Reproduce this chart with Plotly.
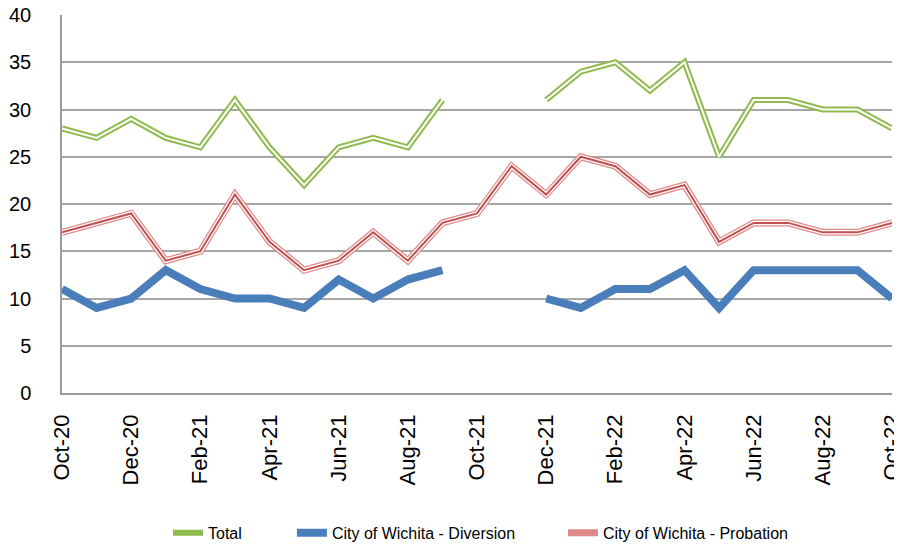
import plotly.graph_objects as go

months = [
    "Oct-20", "Nov-20", "Dec-20", "Jan-21", "Feb-21", "Mar-21", "Apr-21",
    "May-21", "Jun-21", "Jul-21", "Aug-21", "Sep-21", "Oct-21", "Nov-21",
    "Dec-21", "Jan-22", "Feb-22", "Mar-22", "Apr-22", "May-22", "Jun-22",
    "Jul-22", "Aug-22", "Sep-22", "Oct-22",
]
tick_labels = months[::2]

total = [28, 27, 29, 27, 26, 31, 26, 22, 26, 27, 26, 31, None, None,
         31, 34, 35, 32, 35, 25, 31, 31, 30, 30, 28]
diversion = [11, 9, 10, 13, 11, 10, 10, 9, 12, 10, 12, 13, None, None,
             10, 9, 11, 11, 13, 9, 13, 13, 13, 13, 10]
probation = [17, 18, 19, 14, 15, 21, 16, 13, 14, 17, 14, 18, 19, 24,
             21, 25, 24, 21, 22, 16, 18, 18, 17, 17, 18]

GREEN = "#8FBA4E"
BLUE = "#4A7EBB"
RED = "#C0504D"
RED_LIGHT = "#DE8A88"

fig = go.Figure()

# Total - double green line (green stroke with white core)
fig.add_trace(go.Scatter(
    x=months, y=total, name="Total", mode="lines", legend="legend",
    line=dict(color=GREEN, width=6), connectgaps=False,
))
fig.add_trace(go.Scatter(
    x=months, y=total, mode="lines", showlegend=False, hoverinfo="skip",
    line=dict(color="white", width=2), connectgaps=False,
))

# Diversion - thick blue line
fig.add_trace(go.Scatter(
    x=months, y=diversion, name="City of Wichita - Diversion", mode="lines",
    legend="legend2", line=dict(color=BLUE, width=8), connectgaps=False,
))

# Probation - thin-thick-thin red line
fig.add_trace(go.Scatter(
    x=months, y=probation, name="City of Wichita - Probation", mode="lines",
    legend="legend3", line=dict(color=RED_LIGHT, width=7),
))
fig.add_trace(go.Scatter(
    x=months, y=probation, mode="lines", showlegend=False, hoverinfo="skip",
    line=dict(color="white", width=4.5),
))
fig.add_trace(go.Scatter(
    x=months, y=probation, mode="lines", showlegend=False, hoverinfo="skip",
    line=dict(color=RED, width=2),
))

# the page body adds an 8px margin, so the figure is sized to end at the window edge
legend_style = dict(orientation="h", y=-0.37, yanchor="middle", xanchor="left",
                    font=dict(size=16), bgcolor="rgba(0,0,0,0)")

fig.update_layout(
    width=894, height=537,
    paper_bgcolor="white", plot_bgcolor="white",
    margin=dict(l=54, r=10, t=7, b=152, autoexpand=False),
    font=dict(family="Liberation Sans, Arial, sans-serif", color="black"),
    xaxis=dict(
        type="category", categoryorder="array", categoryarray=months,
        range=[0, len(months) - 1], automargin=False,
        tickmode="array", tickvals=tick_labels, ticktext=tick_labels,
        tickangle=-90, tickfont=dict(size=22), ticklabelstandoff=11,
        ticklabeloverflow="allow",
        showgrid=False, showline=True, linecolor="#9A9A9A", linewidth=1.5,
        ticks="", zeroline=False,
    ),
    yaxis=dict(
        range=[0, 40], dtick=5, automargin=False,
        tickfont=dict(size=20), ticklabeloverflow="allow",
        showgrid=True, gridcolor="#A6A6A6", gridwidth=1.5,
        showline=True, linecolor="#9A9A9A", linewidth=1.5,
        zeroline=False, ticklabelstandoff=25,
    ),
    legend=dict(x=0.1277, **legend_style),
    legend2=dict(x=0.277, **legend_style),
    legend3=dict(x=0.6036, **legend_style),
)

fig.write_html("out.html")
